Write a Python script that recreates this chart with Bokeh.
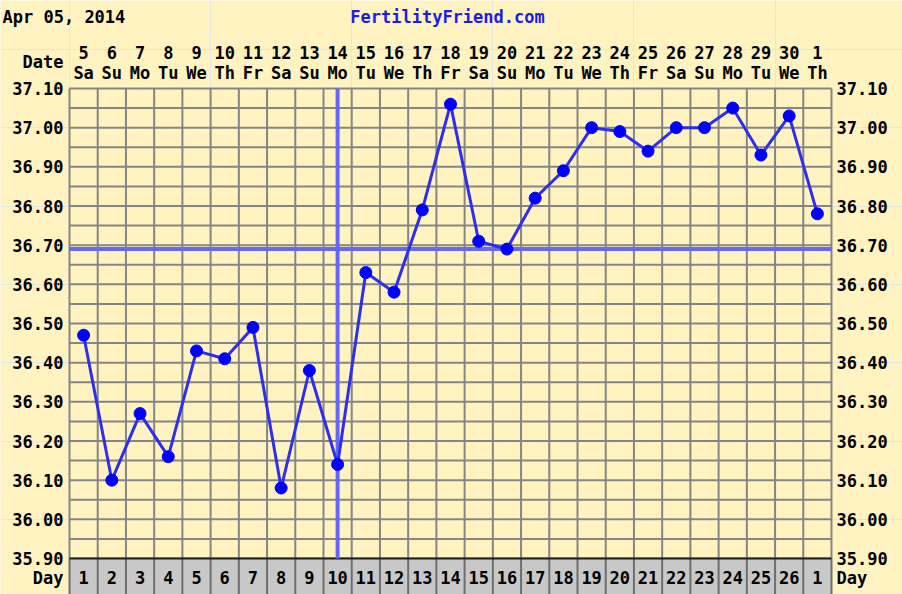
from bokeh.plotting import figure
from bokeh.models import ColumnDataSource, Range1d
from bokeh.core.properties import value
from bokeh.embed import file_html
from bokeh.resources import INLINE

# ---------------- data ----------------
dates = ["5", "6", "7", "8", "9", "10", "11", "12", "13", "14", "15", "16", "17", "18",
         "19", "20", "21", "22", "23", "24", "25", "26", "27", "28", "29", "30", "1"]
weekdays = ["Sa", "Su", "Mo", "Tu", "We", "Th", "Fr", "Sa", "Su", "Mo", "Tu", "We", "Th", "Fr",
            "Sa", "Su", "Mo", "Tu", "We", "Th", "Fr", "Sa", "Su", "Mo", "Tu", "We", "Th"]
cycle_days = ["1", "2", "3", "4", "5", "6", "7", "8", "9", "10", "11", "12", "13", "14",
              "15", "16", "17", "18", "19", "20", "21", "22", "23", "24", "25", "26", "1"]
temps = [36.47, 36.10, 36.27, 36.16, 36.43, 36.41, 36.49, 36.08, 36.38, 36.14,
         36.63, 36.58, 36.79, 37.06, 36.71, 36.69, 36.82, 36.89, 37.00, 36.99,
         36.94, 37.00, 37.00, 37.05, 36.93, 37.03, 36.78]
coverline = 36.69
ovulation_day = 10
y_ticks = [35.90, 36.00, 36.10, 36.20, 36.30, 36.40, 36.50, 36.60, 36.70, 36.80, 36.90, 37.00, 37.10]
y_tick_labels = ["35.90", "36.00", "36.10", "36.20", "36.30", "36.40", "36.50", "36.60",
                 "36.70", "36.80", "36.90", "37.00", "37.10"]
y_half_ticks = [35.95, 36.05, 36.15, 36.25, 36.35, 36.45, 36.55, 36.65, 36.75, 36.85, 36.95, 37.05]
chart_date = "Apr 05, 2014"
site = "FertilityFriend.com"

# ---------------- layout (pixels) ----------------
W, H = 902, 594
LEFT, RIGHT_EDGE = 69, 831       # chart grid left/right
TOP, BOTTOM = 88, 558            # 37.10 / 35.90 rows
ncol = len(dates)
ymin, ymax = y_ticks[0], y_ticks[-1]
ppc = (RIGHT_EDGE - LEFT) / ncol
ppd = (BOTTOM - TOP) / (ymax - ymin)
x_lo = -LEFT / ppc
x_hi = ncol + (W - RIGHT_EDGE) / ppc
y_lo = ymin - (H - BOTTOM) / ppd
y_hi = ymax + TOP / ppd


def y_at(c):  # canvas pixel row -> data y
    return ymax + (TOP - c) / ppd


def x_at(c):  # canvas pixel column -> data x
    return (c - LEFT) / ppc


BG = "#FFF4C1"
GRID = "#858585"
FONT = value("DejaVu Sans Mono")
FS = value("17px")
band_mid = y_at(577)

xs = [i + 0.5 for i in range(ncol)]
src = ColumnDataSource(dict(x=xs, t=temps, d=dates, w=weekdays, c=cycle_days))

p = figure(width=W, height=H, x_range=Range1d(x_lo, x_hi), y_range=Range1d(y_lo, y_hi),
           output_backend="svg", toolbar_location=None,
           x_axis_location=None, y_axis_location=None,
           min_border=0, background_fill_color=BG, border_fill_color=BG,
           outline_line_color=None)

# grid
hlines = y_ticks + y_half_ticks
p.segment(x0=[0] * len(hlines), x1=[ncol] * len(hlines), y0=hlines, y1=hlines,
          line_color=GRID, line_width=2)
vx = list(range(ncol + 1))
p.segment(x0=vx, x1=vx, y0=[ymin] * len(vx), y1=[ymax] * len(vx), line_color=GRID, line_width=2)

# day band
p.quad(left=[0], right=[ncol], bottom=[y_lo], top=[ymin], fill_color="#C8C8C8", line_color=None)
p.segment(x0=vx, x1=vx, y0=[y_lo] * len(vx), y1=[ymin] * len(vx), line_color="#6E6E6E", line_width=2)
p.segment(x0=[0], x1=[ncol], y0=[ymin], y1=[ymin], line_color="#1E1E1E", line_width=2)

txt = dict(text_font=FONT, text_font_style="bold", text_font_size=FS, text_color="black",
           text_baseline="middle")
p.text(x="x", y=band_mid, text="c", source=src, text_align="center", **txt)

# y tick labels
p.text(x=[0] * len(y_ticks), y=y_ticks, text=y_tick_labels, x_offset=-6, text_align="right", **txt)
p.text(x=[ncol] * len(y_ticks), y=y_ticks, text=y_tick_labels, x_offset=5, text_align="left", **txt)

# coverline and ovulation line
p.segment(x0=[0], x1=[ncol], y0=[coverline], y1=[coverline], line_color="#6666FF", line_width=4)
p.segment(x0=[ovulation_day - 0.5], x1=[ovulation_day - 0.5], y0=[ymin], y1=[ymax],
          line_color="#6666FF", line_width=4)

# temperature line
p.line(x="x", y="t", source=src, line_color="#2E2EF0", line_width=3)
p.scatter(x="x", y="t", source=src, size=12, fill_color="#0000FF", line_color="#0000FF")

# header rows
p.text(x="x", y=y_at(52), text="d", source=src, text_align="center", **txt)
p.text(x="x", y=y_at(72), text="w", source=src, text_align="center", **txt)
p.text(x=[0], y=[y_at(61)], text=["Date"], x_offset=-6, text_align="right", **txt)
p.text(x=[0], y=[band_mid], text=["Day"], x_offset=-6, text_align="right", **txt)
p.text(x=[ncol], y=[band_mid], text=["Day"], x_offset=5, text_align="left", **txt)
p.text(x=[x_at(2)], y=[y_at(16)], text=[chart_date], text_align="left", **txt)
txt_site = dict(txt, text_color="#1C1CE8")
p.text(x=[x_at(447)], y=[y_at(16)], text=[site], text_align="center", **txt_site)

open("out.html", "w").write(file_html(p, INLINE))
